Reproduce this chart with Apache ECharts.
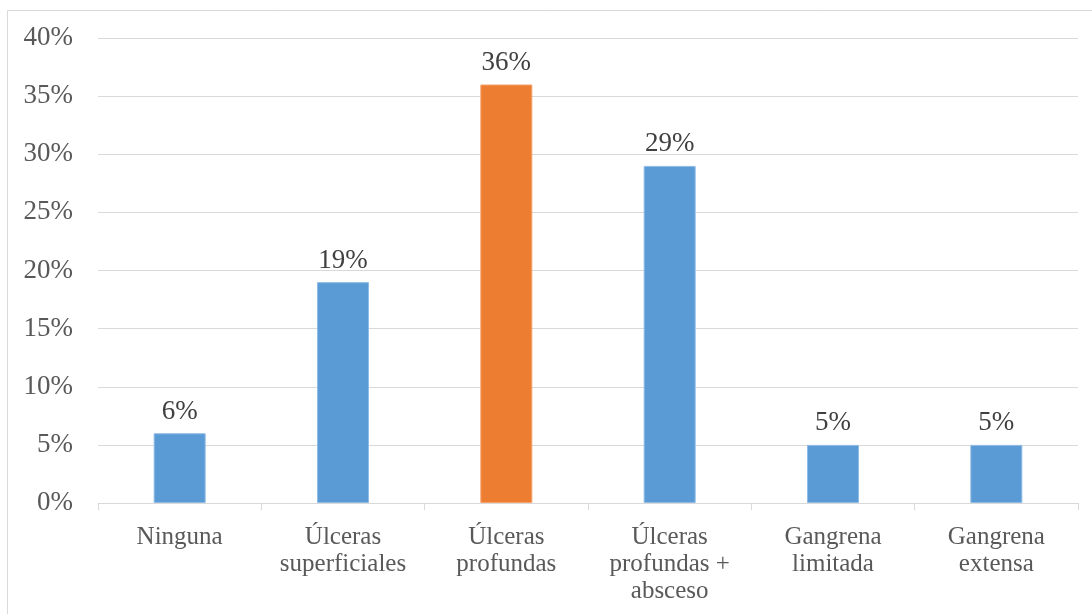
<!DOCTYPE html>
<html><head><meta charset="utf-8">
<script src="https://cdn.jsdelivr.net/npm/echarts@6/dist/echarts.min.js"></script>
<style>html,body{margin:0;padding:0;background:#fff}#c{width:1092px;height:614px}</style>
</head><body><div id="c"></div>
<script>
const categories = ['Ninguna', 'Úlceras\nsuperficiales', 'Úlceras\nprofundas', 'Úlceras\nprofundas +\nabsceso', 'Gangrena\nlimitada', 'Gangrena\nextensa'];
const values = [6, 19, 36, 29, 5, 5];
const highlightIndex = 2;
const chart = echarts.init(document.getElementById('c'));
const font = '"Liberation Serif","Times New Roman",serif';
chart.setOption({
  animation: false,
  graphic: [{type: 'rect', shape: {x: 7.5, y: 10.5, width: 1100, height: 620}, style: {fill: 'none', stroke: '#d9d9d9', lineWidth: 1}}],
  grid: {left: 98, right: 14, top: 38, bottom: 111},
  xAxis: {
    type: 'category', data: categories,
    axisLine: {lineStyle: {color: '#d9d9d9', width: 1}},
    axisTick: {show: true, length: 7, lineStyle: {color: '#d9d9d9'}},
    axisLabel: {color: '#595959', fontFamily: font, fontSize: 25, lineHeight: 27, margin: 21, interval: 0}
  },
  yAxis: {
    type: 'value', min: 0, max: 40, interval: 5,
    axisLabel: {color: '#595959', fontFamily: font, fontSize: 27, margin: 25, formatter: '{value}%'},
    splitLine: {lineStyle: {color: '#d9d9d9', width: 1}},
    axisLine: {show: false}, axisTick: {show: false}
  },
  series: [{
    type: 'bar', barWidth: 52,
    data: values.map((v, i) => ({value: v, itemStyle: {color: i === highlightIndex ? '#ED7D31' : '#5B9BD5', borderColor: i === highlightIndex ? '#f4a36e' : '#8fbbe5', borderWidth: 1}})),
    label: {show: true, position: 'top', distance: 8, color: '#404040', fontFamily: font, fontSize: 27, formatter: '{c}%'}
  }]
});
</script></body></html>
